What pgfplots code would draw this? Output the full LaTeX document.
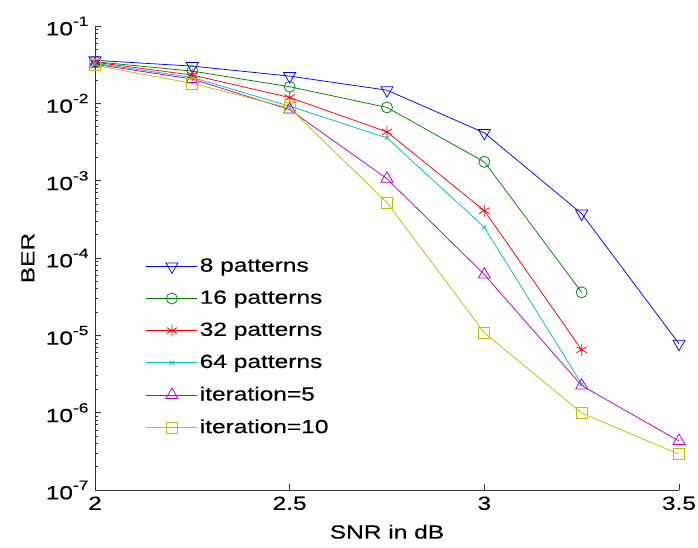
\documentclass[border=0pt]{standalone}
\usepackage{fontspec}
\setmainfont{Liberation Sans}[FakeStretch=1.29, FakeBold=0.3]
\usepackage{pgfplots}
\pgfplotsset{compat=1.18}
\definecolor{mblue}{rgb}{0,0,1}
\definecolor{mgreen}{rgb}{0,0.5,0}
\definecolor{mred}{rgb}{1,0,0}
\definecolor{mcyan}{rgb}{0,0.75,0.75}
\definecolor{mmag}{rgb}{0.75,0,0.75}
\definecolor{myel}{rgb}{0.75,0.75,0}
\begin{document}
\fontsize{19bp}{23bp}\selectfont
\begin{tikzpicture}
\useasboundingbox (-95bp,-58bp) rectangle (603bp,490bp);
\begin{axis}[
  at={(0,0)}, anchor=south west,
  scale only axis, width=584bp, height=464bp,
  xmin=2, xmax=3.5, ymode=log, ymin=1e-7, ymax=1e-1,
  axis x line*=bottom, axis y line*=left,
  axis line style={-, black!80},
  xtick={2,2.5,3,3.5}, xticklabels={2,2.5,3,3.5},
  ytick={1e-7,1e-6,1e-5,1e-4,1e-3,1e-2,1e-1},
  yticklabel={\pgfmathtruncatemacro\e{round(\tick/2.302585093)}10\raisebox{0.5em}{\fontsize{13.5bp}{13.5bp}\selectfont\e}},
  tick align=inside,
  major tick length=6bp, minor tick length=3.5bp,
  tick style={black!80, line width=0.6bp},
  xlabel={SNR in dB}, ylabel={BER},
  xlabel style={at={(axis description cs:0.5,-0.09)}, anchor=center},
  ylabel style={at={(axis description cs:-0.115,0.5)}, anchor=center},
  legend style={draw=none, fill=none, at={(0.087,0.504)}, anchor=north west, inner sep=0pt, row sep=12bp},
  legend cell align=left,
  legend image code/.code={\draw[mark repeat=2,mark phase=2] plot coordinates {(0bp,0bp) (25.5bp,0bp) (51bp,0bp)};},
  every axis plot/.append style={line width=0.75bp},
]
\addplot[mblue, mark=triangle, mark size=7bp, mark options={rotate=180}] coordinates {(2,0.036)(2.25,0.0303)(2.5,0.0225)(2.75,0.0148)(3,0.00415)(3.25,3.75e-4)(3.5,7.8e-6)};
\addlegendentry{8 patterns}
\addplot[mgreen, mark=o, mark size=5.5bp] coordinates {(2,0.0345)(2.25,0.0261)(2.5,0.0164)(2.75,0.00885)(3,1.75e-3)(3.25,3.6e-5)};
\addlegendentry{16 patterns}
\addplot[mred, mark=asterisk, mark size=6bp] coordinates {(2,0.034)(2.25,0.0232)(2.5,0.0119)(2.75,4.27e-3)(3,4.1e-4)(3.25,6.5e-6)};
\addlegendentry{32 patterns}
\addplot[mcyan, mark=x, mark size=3bp] coordinates {(2,0.033)(2.25,0.0216)(2.5,0.0092)(2.75,3.57e-3)(3,2.5e-4)(3.25,2.35e-6)};
\addlegendentry{64 patterns}
\addplot[mmag, mark=triangle, mark size=7bp] coordinates {(2,0.032)(2.25,0.0206)(2.5,0.0083)(2.75,1.06e-3)(3,6.1e-5)(3.25,2.24e-6)(3.5,4.3e-7)};
\addlegendentry{iteration=5}
\addplot[myel, mark=square, mark size=5.5bp] coordinates {(2,0.031)(2.25,0.0181)(2.5,0.0087)(2.75,5.2e-4)(3,1.08e-5)(3.25,9.9e-7)(3.5,2.9e-7)};
\addlegendentry{iteration=10}
\end{axis}
\end{tikzpicture}
\end{document}
